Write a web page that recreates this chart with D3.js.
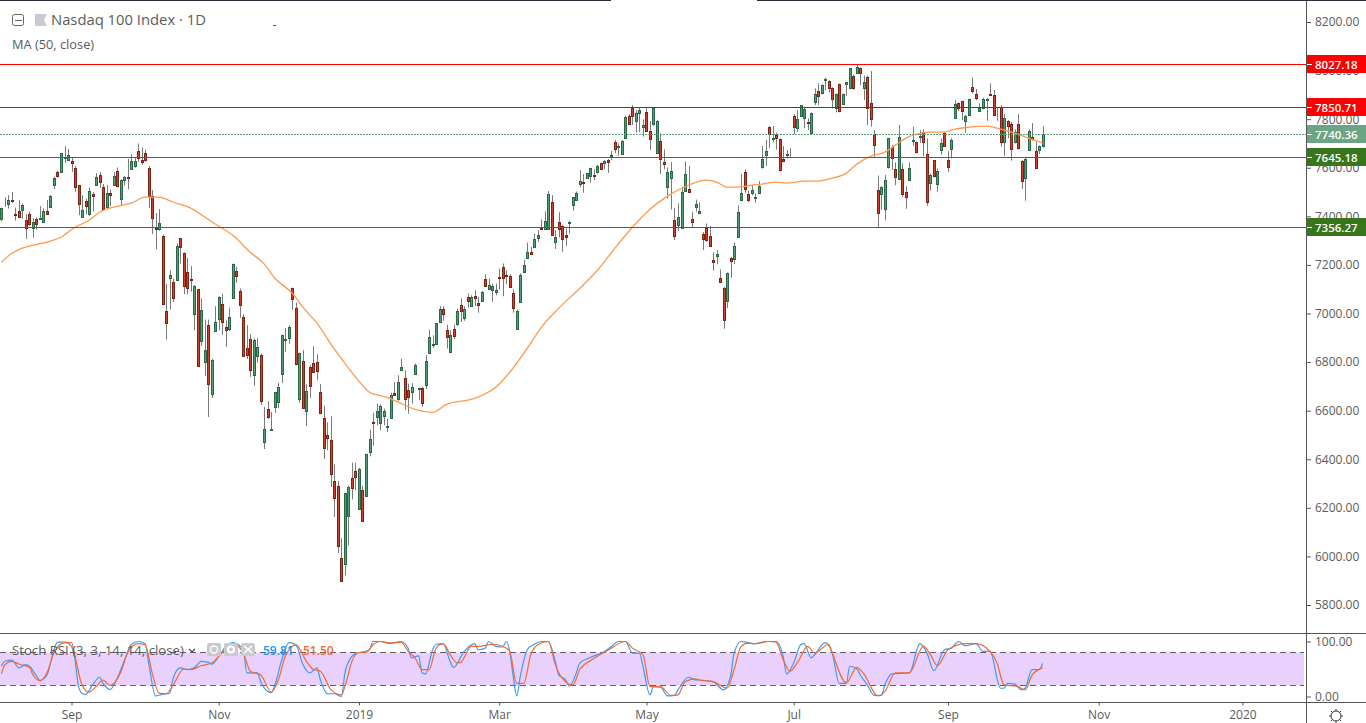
<!DOCTYPE html>
<html>
<head>
<meta charset="utf-8">
<style>
  html, body { margin: 0; padding: 0; background: #fff; overflow: hidden; }
  svg { display: block; }
  text { font-family: "Open Sans", "Noto Sans", sans-serif; }
</style>
</head>
<body>
<div id="chart"></div>
<script src="https://cdn.jsdelivr.net/npm/d3@7/dist/d3.min.js"></script>
<script>
const opens = [
  7387,7457,7452,7467,7409,7420,7427,7383,7408,7350,
  7391,7390,7377,7420,7439,7527,7582,7583,7641,7633,
  7626,7597,7527,7398,7465,7410,7490,7530,7572,7519,
  7439,7494,7528,7585,7472,7550,7561,7596,7608,7671,
  7630,7659,7601,7482,7353,7349,7317,7012,7147,7128,
  7139,7309,7247,7169,7144,6998,7099,6887,6802,6954,
  6670,6928,6979,7041,6946,6938,7064,7173,7094,6987,
  6856,6893,6748,6823,6831,6473,6608,6522,6615,6636,
  6751,6889,6901,7107,7024,6648,6806,6599,6781,6798,
  6802,6678,6571,6501,6481,6312,6291,5995,5970,6168,
  6324,6353,6197,6275,6250,6431,6555,6574,6551,6580,
  6534,6571,6674,6646,6768,6736,6687,6677,6753,6690,
  6695,6707,6839,6869,6876,6967,7020,6934,6841,6938,
  6957,7037,6983,7066,7030,7070,7045,7053,7144,7099,
  7095,7090,7149,7193,7158,7156,7086,6938,7049,7171,
  7230,7255,7272,7309,7351,7346,7346,7457,7295,7375,
  7362,7323,7372,7447,7468,7534,7541,7559,7564,7570,
  7581,7618,7620,7631,7649,7704,7686,7655,7721,7811,
  7848,7791,7824,7766,7828,7750,7782,7659,7712,7622,
  7522,7556,7383,7366,7354,7505,7511,7391,7439,7412,
  7329,7350,7321,7222,7235,7148,7107,7053,7230,7226,
  7313,7469,7581,7490,7498,7474,7498,7605,7651,7766,
  7717,7733,7717,7638,7652,7671,7815,7762,7815,7803,
  7787,7745,7869,7914,7906,7960,7956,7927,7848,7943,
  7861,7943,7927,7976,7988,8009,7927,7972,7865,7737,
  7507,7490,7432,7605,7684,7593,7552,7593,7502,7548,
  7711,7704,7727,7749,7655,7539,7630,7535,7675,7741,
  7630,7679,7803,7865,7873,7791,7819,7931,7902,7832,
  7848,7877,7902,7898,7811,7852,7704,7791,7782,7704,
  7782,7626,7556,7675,7725,7667,7675,7688
]
const highs = [
  7436,7479,7487,7500,7436,7467,7453,7409,7420,7392,
  7395,7442,7432,7467,7487,7563,7587,7659,7689,7677,
  7642,7607,7530,7487,7473,7519,7500,7578,7582,7533,
  7528,7511,7583,7601,7552,7566,7637,7656,7642,7700,
  7684,7675,7607,7508,7413,7430,7325,7121,7178,7144,
  7288,7309,7251,7228,7195,7117,7099,7062,6975,6975,
  6814,7030,7071,7082,6972,7024,7206,7192,7103,6997,
  6952,6915,6897,6900,6835,6615,6639,6595,6678,6714,
  6913,6941,6952,7107,7045,6839,6849,6709,6787,6865,
  6832,6709,6621,6552,6577,6379,6310,6074,6262,6291,
  6386,6386,6365,6291,6423,6522,6591,6629,6626,6608,
  6567,6674,6718,6746,6814,6766,6711,6714,6794,6695,
  6698,6828,6934,6910,6959,7030,7030,6954,6931,6954,
  7020,7062,7030,7082,7075,7096,7068,7092,7162,7144,
  7123,7123,7185,7206,7178,7162,7099,7016,7165,7220,
  7292,7274,7329,7343,7387,7421,7504,7487,7343,7417,
  7364,7350,7380,7478,7502,7590,7574,7579,7600,7593,
  7611,7620,7631,7636,7669,7714,7700,7714,7815,7821,
  7858,7837,7848,7799,7848,7792,7850,7796,7741,7675,
  7601,7623,7434,7453,7522,7627,7607,7419,7469,7457,
  7336,7371,7360,7251,7261,7181,7110,7169,7233,7292,
  7445,7574,7593,7507,7527,7494,7545,7689,7714,7772,
  7772,7745,7721,7689,7673,7681,7821,7837,7857,7851,
  7803,7828,7927,7947,7943,7971,7960,7931,7906,7947,
  7906,7954,8009,7982,8023,8012,7979,7979,7998,7755,
  7568,7524,7570,7723,7693,7622,7776,7618,7524,7622,
  7769,7708,7755,7758,7721,7576,7631,7597,7721,7748,
  7668,7721,7878,7869,7876,7817,7885,7972,7924,7865,
  7888,7889,7947,7920,7848,7858,7821,7796,7789,7758,
  7821,7631,7640,7758,7784,7707,7692,7771
]
const lows = [
  7381,7439,7432,7456,7382,7395,7390,7307,7360,7312,
  7344,7390,7375,7405,7436,7512,7559,7583,7620,7629,
  7583,7500,7405,7395,7409,7402,7421,7528,7517,7425,
  7436,7442,7524,7519,7445,7527,7511,7594,7600,7625,
  7612,7625,7434,7327,7265,7340,7040,6894,7018,7047,
  7134,7206,7079,7079,7089,6931,6780,6867,6743,6574,
  6652,6924,6931,6912,6862,6927,7062,7126,6982,6821,
  6812,6739,6702,6797,6624,6442,6565,6522,6591,6610,
  6714,6842,6875,7015,6787,6632,6607,6537,6652,6758,
  6725,6586,6401,6437,6286,6162,6014,5899,5922,6045,
  6235,6272,6192,6142,6245,6412,6457,6540,6519,6540,
  6512,6567,6663,6640,6766,6604,6588,6629,6751,6643,
  6615,6689,6836,6858,6875,6965,6970,6856,6839,6895,
  6948,6965,6970,7024,7027,7030,7003,7051,7112,7096,
  7048,7075,7099,7071,7121,7105,7003,6935,7046,7169,
  7228,7240,7269,7295,7343,7343,7343,7323,7266,7313,
  7254,7277,7329,7423,7464,7519,7497,7556,7538,7549,
  7577,7590,7594,7579,7631,7660,7649,7652,7718,7778,
  7776,7744,7748,7728,7747,7673,7773,7656,7574,7594,
  7474,7428,7303,7340,7354,7502,7497,7354,7419,7409,
  7261,7295,7274,7176,7203,7125,6937,7023,7147,7204,
  7312,7467,7497,7460,7487,7456,7494,7596,7607,7682,
  7704,7675,7585,7622,7637,7641,7737,7748,7813,7762,
  7755,7744,7858,7858,7902,7920,7910,7844,7828,7828,
  7858,7896,7924,7921,7986,7940,7879,7776,7769,7642,
  7354,7428,7384,7597,7592,7528,7549,7480,7431,7546,
  7689,7659,7703,7648,7443,7505,7560,7501,7653,7686,
  7583,7638,7800,7833,7796,7744,7817,7906,7878,7830,
  7841,7793,7895,7814,7793,7686,7649,7721,7629,7700,
  7675,7513,7464,7670,7711,7600,7657,7683
]
const closes = [
  7436,7461,7469,7463,7405,7398,7445,7354,7369,7375,
  7369,7395,7424,7410,7482,7556,7567,7659,7645,7651,
  7620,7522,7452,7428,7443,7506,7485,7560,7542,7431,
  7494,7489,7568,7524,7548,7561,7557,7626,7626,7641,
  7625,7631,7485,7394,7349,7371,7040,6961,7158,7064,
  7276,7274,7114,7106,7139,7115,6784,7016,6851,6711,
  6810,6967,7066,6963,6934,6987,7203,7156,7035,6827,
  6831,6769,6889,6864,6641,6526,6574,6526,6678,6699,
  6913,6893,6946,7060,6792,6839,6613,6683,6703,6761,
  6765,6591,6446,6489,6341,6242,6044,5900,6262,6287,
  6283,6328,6361,6146,6423,6485,6551,6600,6621,6600,
  6538,6666,6665,6716,6781,6646,6657,6699,6786,6695,
  6633,6806,6905,6873,6959,7020,6996,6905,6913,6908,
  7012,7012,7020,7053,7066,7062,7033,7090,7115,7119,
  7115,7095,7147,7148,7154,7110,7024,7012,7160,7198,
  7255,7243,7305,7325,7346,7379,7490,7325,7313,7349,
  7305,7316,7376,7478,7498,7544,7538,7577,7597,7566,
  7609,7593,7626,7625,7652,7678,7689,7712,7807,7782,
  7814,7824,7836,7778,7750,7719,7848,7791,7638,7614,
  7581,7585,7321,7399,7502,7576,7502,7375,7449,7420,
  7305,7301,7276,7214,7243,7128,6975,7165,7217,7276,
  7416,7498,7511,7469,7507,7478,7523,7634,7667,7737,
  7723,7721,7589,7626,7655,7667,7766,7799,7857,7840,
  7783,7824,7902,7894,7939,7965,7927,7885,7902,7832,
  7902,7951,8009,7927,8013,7988,7951,7848,7799,7692,
  7412,7519,7548,7721,7642,7560,7725,7490,7480,7601,
  7716,7663,7730,7704,7461,7572,7564,7585,7700,7688,
  7605,7716,7861,7848,7832,7811,7885,7914,7889,7848,
  7885,7885,7898,7819,7815,7708,7803,7770,7679,7749,
  7683,7547,7634,7753,7720,7601,7688,7740
]

const maBars = [0,3,6,9,14,17,21,25,28,32,37,41,45,49,54,58,62,66,71,75,78,83,86,90,95,98,103,105,110,114,118,123,127,135,141,145,150,154,159,165,170,175,180,185,190,196,201,204,207,210,214,217,221,224,229,233,237,241,244,248,252,255,258,261,265,269,272,276,281,285,289,293,297]
const maValues = [7211,7248,7269,7281,7298,7314,7355,7384,7417,7438,7454,7479,7479,7458,7434,7397,7359,7322,7252,7203,7145,7083,7026,6960,6853,6795,6704,6676,6655,6630,6605,6593,6626,6651,6696,6758,6857,6943,7022,7104,7178,7269,7355,7429,7483,7528,7549,7541,7520,7520,7528,7533,7541,7537,7545,7545,7557,7578,7615,7648,7664,7693,7722,7738,7747,7747,7759,7767,7771,7759,7743,7722,7701]

const kBars = [0,1,3,5,7,8,10,11,13,14,15,16,18,20,21,22,23,24,26,28,29,31,33,35,37,39,41,42,44,46,48,49,51,53,55,57,59,60,62,64,66,69,70,73,74,76,77,78,80,82,84,86,88,90,91,93,95,97,98,100,101,103,105,106,108,111,114,116,117,119,120,121,123,124,126,128,129,132,135,136,138,139,141,143,144,145,146,147,148,150,152,154,156,158,159,161,162,164,165,168,172,174,176,178,180,182,183,185,186,188,190,192,193,196,198,199,203,206,208,209,211,213,215,218,221,223,224,226,228,229,231,232,235,237,239,241,242,244,245,247,249,251,252,254,259,262,264,266,269,271,273,275,278,280,282,285,286,287,289,291,292,294,296,297]
const kValues = [55,64,66,52,58,55,37,29,39,61,85,99,99,91,67,18,6,4,21,35,24,13,33,64,94,100,96,61,1,4,6,33,52,49,52,64,62,59,73,91,98,85,43,43,27,9,7,21,67,98,94,58,43,52,30,5,5,0,43,73,78,81,85,100,100,97,100,88,70,74,43,41,85,95,96,64,53,82,96,85,88,100,91,90,100,82,36,1,36,85,95,100,100,64,39,30,19,43,61,71,82,91,100,100,79,79,55,3,18,17,1,2,12,35,30,30,27,12,37,79,100,98,96,100,100,73,41,61,94,96,70,76,98,79,24,24,55,50,39,21,2,2,21,41,43,96,79,47,85,88,100,92,96,82,82,15,15,24,23,12,15,49,49,60]
const dBars = [0,1,3,5,8,9,11,13,15,18,20,21,23,25,27,29,31,34,36,39,41,43,45,47,49,52,54,57,60,63,66,69,71,74,77,79,81,84,87,89,91,94,97,98,100,102,104,106,108,111,114,116,118,120,122,124,126,128,130,131,134,136,140,144,145,147,149,151,153,156,158,160,163,165,169,173,178,180,183,185,188,191,193,195,198,199,203,207,209,211,213,215,219,221,223,225,227,230,232,236,237,241,244,246,250,252,255,259,263,265,267,270,275,278,282,284,286,290,292,294,297]
const dValues = [41,58,64,59,53,39,29,43,79,98,98,73,21,8,18,30,20,43,79,96,94,43,6,5,21,50,49,56,61,80,96,79,46,39,8,30,73,94,64,49,46,12,3,18,64,80,80,94,100,97,99,82,70,49,49,88,96,76,61,62,91,91,95,88,82,24,24,76,94,100,58,33,21,49,69,84,100,88,76,18,18,2,3,27,32,30,27,15,49,91,97,96,100,99,67,46,61,91,79,95,79,25,53,41,1,9,43,43,91,76,56,85,96,96,82,61,21,18,12,39,52]

const priceTicks = [8200,8000,7800,7600,7400,7200,7000,6800,6600,6400,6200,6000,5800]
const oscTicks = [100,0]
const timeBars = [20,62,102,142,184,226,270,313,354]
const timeLabels = ['Sep','Nov','2019','Mar','May','Jul','Sep','Nov','2020']

const levelValues = [8027.18,7850.71,7645.18,7356.27]
const levelColors = ['#ff0000','#e60000','#38761d','#38761d']
const lastPrice = 7740.36
const oscBand = [80,20]

const width = 1366
const height = 723
const axisX = 1306
const paneTop = 633.5
const paneBottom = 702.5

const svg = d3.select('#chart').append('svg')
  .attr('width', width)
  .attr('height', height)

svg.append('defs').append('clipPath').attr('id', 'main-clip')
  .append('rect').attr('width', axisX).attr('height', paneTop)
svg.select('defs').append('clipPath').attr('id', 'osc-clip')
  .append('rect').attr('y', paneTop).attr('width', axisX).attr('height', paneBottom - paneTop)

const x = d3.scaleLinear().domain([0, 297]).range([1.4, 1042.6])
const y = d3.scaleLinear().domain([5800, 8200]).range([605, 22])
const yOsc = d3.scaleLinear().domain([0, 100]).range([696.5, 641.5])

// candles
const main = svg.append('g').attr('clip-path', 'url(#main-clip)')
const bars = d3.range(opens.length)

const candle = main.selectAll('g.candle')
  .data(bars)
  .enter()
  .append('g')
  .attr('class', 'candle')

candle.append('line')
  .attr('x1', i => Math.round(x(i)) + 0.5)
  .attr('x2', i => Math.round(x(i)) + 0.5)
  .attr('y1', i => y(highs[i]))
  .attr('y2', i => y(lows[i]))
  .attr('stroke', '#7a7a7a')

candle.append('rect')
  .attr('x', i => Math.round(x(i)) - 0.5)
  .attr('width', 2)
  .attr('y', i => Math.round(y(Math.max(opens[i], closes[i]))) + 0.5)
  .attr('height', i => Math.max(0, Math.round(y(Math.min(opens[i], closes[i]))) - Math.round(y(Math.max(opens[i], closes[i])))))
  .attr('fill', i => closes[i] >= opens[i] ? '#519f77' : '#d43f2c')
  .attr('stroke', i => closes[i] >= opens[i] ? '#2a6747' : '#7a2416')

// moving average
const maLine = d3.line()
  .x((d, i) => x(maBars[i]))
  .y(d => y(d))
  .curve(d3.curveMonotoneX)

main.append('path')
  .datum(maValues)
  .attr('fill', 'none')
  .attr('stroke', '#ff9a4d')
  .attr('stroke-width', 1.3)
  .attr('d', maLine)

// horizontal levels
main.selectAll('line.level')
  .data(levelValues)
  .enter()
  .append('line')
  .attr('class', 'level')
  .attr('x1', 0)
  .attr('x2', axisX)
  .attr('y1', d => Math.round(y(d)) + 0.5)
  .attr('y2', d => Math.round(y(d)) + 0.5)
  .attr('stroke', (d, i) => levelColors[i])

main.append('line')
  .attr('x1', 0)
  .attr('x2', axisX)
  .attr('y1', Math.round(y(lastPrice)) + 0.5)
  .attr('y2', Math.round(y(lastPrice)) + 0.5)
  .attr('stroke', '#5f9f7c')
  .attr('stroke-dasharray', '2 1')

// oscillator pane
const osc = svg.append('g').attr('clip-path', 'url(#osc-clip)')

osc.append('rect')
  .attr('x', 0)
  .attr('width', axisX - 2)
  .attr('y', yOsc(oscBand[0]))
  .attr('height', yOsc(oscBand[1]) - yOsc(oscBand[0]))
  .attr('fill', '#e9d0fd')

osc.selectAll('line.band')
  .data(oscBand)
  .enter()
  .append('line')
  .attr('class', 'band')
  .attr('x1', 0)
  .attr('x2', axisX - 2)
  .attr('y1', d => yOsc(d))
  .attr('y2', d => yOsc(d))
  .attr('stroke', '#5d5d68')
  .attr('stroke-dasharray', '6 4')

const oscLine = (barIdx) => d3.line()
  .x((d, i) => x(barIdx[i]))
  .y(d => yOsc(d))
  .curve(d3.curveMonotoneX)

osc.append('path')
  .datum(kValues)
  .attr('fill', 'none')
  .attr('stroke', '#3b9bf5')
  .attr('stroke-width', 1.2)
  .attr('d', oscLine(kBars))

osc.append('path')
  .datum(dValues)
  .attr('fill', 'none')
  .attr('stroke', '#f4692f')
  .attr('stroke-width', 1.2)
  .attr('d', oscLine(dBars))

// axes
const styleAxis = g => {
  g.select('.domain').remove()
  g.selectAll('line').attr('stroke', '#555')
  g.selectAll('text').attr('fill', '#5b5b5b').style('font-size', '12px')
}

svg.append('g')
  .attr('transform', 'translate(' + axisX + ',0)')
  .call(d3.axisRight(y).tickValues(priceTicks).tickSize(5).tickPadding(4).tickFormat(d3.format('.2f')))
  .call(styleAxis)

svg.append('g')
  .attr('transform', 'translate(' + axisX + ',0)')
  .call(d3.axisRight(yOsc).tickValues(oscTicks).tickSize(5).tickPadding(4).tickFormat(d3.format('.2f')))
  .call(styleAxis)

svg.append('g')
  .attr('transform', 'translate(0,' + paneBottom + ')')
  .call(d3.axisBottom(x).tickValues(timeBars).tickSize(3).tickPadding(5).tickFormat((d, i) => timeLabels[i]))
  .call(styleAxis)

// frame lines
const frame = [
  [0, paneTop, width, paneTop],
  [0, paneBottom, width, paneBottom],
  [axisX + 0.5, 0, axisX + 0.5, height]
]
svg.selectAll('line.frame')
  .data(frame)
  .enter()
  .append('line')
  .attr('class', 'frame')
  .attr('x1', d => d[0])
  .attr('y1', d => d[1])
  .attr('x2', d => d[2])
  .attr('y2', d => d[3])
  .attr('stroke', '#555')

svg.append('rect').attr('width', 611).attr('height', 1).attr('fill', '#2a2e39')
svg.append('rect').attr('x', 757).attr('width', 609).attr('height', 1).attr('fill', '#2a2e39')

// price tags on the axis
const tags = levelValues.map((v, i) => ({ v: v, color: i < 2 ? '#ff0000' : '#38761d' }))
tags.push({ v: lastPrice, color: '#6ba583' })

const tag = svg.selectAll('g.tag')
  .data(tags)
  .enter()
  .append('g')
  .attr('class', 'tag')
  .attr('transform', d => 'translate(' + axisX + ',' + Math.round(y(d.v)) + ')')

tag.append('rect')
  .attr('x', 1)
  .attr('y', -9)
  .attr('width', 59)
  .attr('height', 18)
  .attr('fill', d => d.color)

tag.append('line')
  .attr('x1', 1)
  .attr('x2', 6)
  .attr('y1', 0.5)
  .attr('y2', 0.5)
  .attr('stroke', '#fff')

tag.append('text')
  .attr('x', 9)
  .attr('y', 4.5)
  .attr('fill', '#fff')
  .style('font-size', '11.5px')
  .style('font-weight', 600)
  .text(d => d.v.toFixed(2))

// legend
svg.append('rect').attr('x', 12.5).attr('y', 14.5).attr('width', 11).attr('height', 11).attr('rx', 2)
  .attr('fill', 'none').attr('stroke', '#666')
svg.append('line').attr('x1', 15).attr('x2', 22).attr('y1', 20.5).attr('y2', 20.5).attr('stroke', '#666')
svg.append('path').attr('d', 'M35 14H47L44 20L47 26H35Z').attr('fill', '#c9c9d4')

svg.append('text').attr('x', 51).attr('y', 24.5).attr('fill', '#5b5b5b')
  .style('font-size', '14.8px').text('Nasdaq 100 Index · 1D')
svg.append('text').attr('x', 12).attr('y', 49).attr('fill', '#5b5b5b')
  .style('font-size', '12.8px').text('MA (50, close)')
svg.append('rect').attr('x', 273).attr('y', 25).attr('width', 3).attr('height', 1).attr('fill', '#555')

svg.append('text').attr('x', 12).attr('y', 655).attr('fill', '#5b5b5b')
  .style('font-size', '13.2px').text('Stoch RSI (3, 3, 14, 14, close)')
svg.append('path').attr('d', 'M189 649L192 652L195 649').attr('fill', 'none').attr('stroke', '#444').attr('stroke-width', 1.2)

// pane buttons
const buttonX = [207, 224, 241]
svg.selectAll('rect.btn')
  .data(buttonX)
  .enter()
  .append('rect')
  .attr('class', 'btn')
  .attr('x', d => d)
  .attr('y', 643)
  .attr('width', 14)
  .attr('height', 13)
  .attr('rx', 2)
  .attr('fill', '#c9c9cf')
svg.append('circle').attr('cx', 214).attr('cy', 649.5).attr('r', 3.5).attr('fill', 'none').attr('stroke', '#fff').attr('stroke-width', 1.3)
svg.append('circle').attr('cx', 231).attr('cy', 649.5).attr('r', 3).attr('fill', 'none').attr('stroke', '#fff').attr('stroke-width', 2)
svg.append('path').attr('d', 'M244 646L252 653M252 646L244 653').attr('stroke', '#fff').attr('stroke-width', 1.6)

svg.append('text').attr('x', 263).attr('y', 655).attr('fill', '#2196f3')
  .style('font-size', '12px').style('font-weight', 600).text('59.81')
svg.append('text').attr('x', 303).attr('y', 655).attr('fill', '#f4692f')
  .style('font-size', '12px').style('font-weight', 600).text('51.50')

// settings icon
svg.append('circle').attr('cx', 1336).attr('cy', 716).attr('r', 5).attr('fill', 'none').attr('stroke', '#333')
svg.append('path').attr('d', 'M1336 709V711M1336 721V723M1329 716H1331M1341 716H1343M1331 711L1332.5 712.5M1341 711L1339.5 712.5M1331 721L1332.5 719.5M1341 721L1339.5 719.5')
  .attr('stroke', '#333')
</script>
</body>
</html>
